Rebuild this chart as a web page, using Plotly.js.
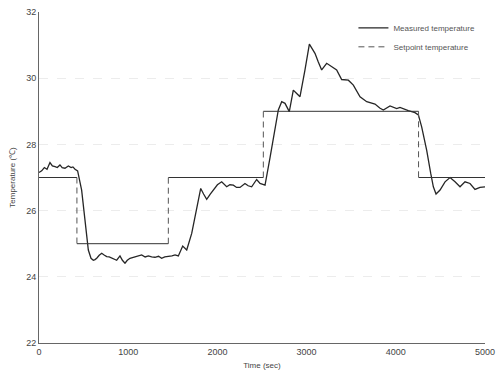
<!DOCTYPE html>
<html>
<head>
<meta charset="utf-8">
<script src="https://cdn.plot.ly/plotly-3.0.1.min.js"></script>
<style>html,body{margin:0;padding:0;background:#fff;}#chart{width:497px;height:381px;}</style>
</head>
<body>
<div id="chart"></div>
<script>
// Measured temperature (time in sec, temperature in °C)
const measTime = [0,30,60,90,123,150,180,205,235,260,291,329,360,380,404,433,
  478,516,553,583,609,628,647,675,703,730,759,787,815,843,871,908,935,964,990,1020,1048,1076,1110,1151,1190,1226,1263,1300,1340,1375,1410,1450,1490,1525,1562,
  1611,1656,1712,1768,1813,1845,1880,1920,1955,2000,2048,2075,2104,2140,2179,2215,2253,2309,2345,2384,2440,2478,2534,
  2590,2646,2683,2721,2758,2806,2851,2889,2926,2982,3031,3060,3094,3130,3169,3225,3281,3337,3393,3468,3524,3560,3599,3674,3767,3820,3860,3935,4010,4047,4100,4140,4215,4253,
  4290,4346,4391,4421,4451,4496,4552,4608,4664,4720,4776,4832,4888,4944,5000];
const measTemp = [27.15,27.2,27.3,27.25,27.45,27.35,27.33,27.3,27.38,27.3,27.28,27.35,27.3,27.32,27.25,27.2,
  26.62,25.62,24.81,24.56,24.5,24.52,24.56,24.65,24.71,24.66,24.61,24.6,24.56,24.52,24.5,24.63,24.5,24.41,24.5,24.56,24.58,24.61,24.64,24.66,24.6,24.63,24.6,24.59,24.62,24.56,24.6,24.61,24.63,24.66,24.63,
  24.93,24.81,25.31,26.12,26.67,26.5,26.34,26.5,26.62,26.78,26.87,26.8,26.72,26.78,26.77,26.7,26.7,26.82,26.75,26.72,26.94,26.82,26.77,
  27.6,28.5,29.04,29.29,29.24,28.99,29.64,29.54,29.44,30.25,31.03,30.9,30.75,30.5,30.25,30.45,30.35,30.25,29.96,29.94,29.79,29.6,29.44,29.29,29.22,29.1,29.04,29.16,29.08,29.12,29.05,29.02,28.96,28.89,
  28.53,27.83,27.13,26.72,26.5,26.62,26.87,27.0,26.87,26.72,26.87,26.82,26.64,26.7,26.72];

// Setpoint temperature: change times and levels
const spTime = [0,425,1450,2515,4255,5000];
const spTemp = [27,25,27,29,27,27];

const xTicks = [0,1000,2000,3000,4000,5000];
const yTicks = [22,24,26,28,30,32];

// build setpoint horizontal (solid) and vertical (dashed) segments
const hx = [], hy = [], vx = [], vy = [];
for (let i = 0; i < spTime.length - 1; i++) {
  hx.push(spTime[i], spTime[i+1], null);
  hy.push(spTemp[i], spTemp[i], null);
  if (spTemp[i+1] !== spTemp[i]) {
    vx.push(spTime[i+1], spTime[i+1], null);
    vy.push(spTemp[i], spTemp[i+1], null);
  }
}

const traces = [
  {x: measTime, y: measTemp, type: 'scatter', mode: 'lines', name: 'Measured temperature',
   line: {color: '#262626', width: 1.3}},
  {x: vx, y: vy, type: 'scatter', mode: 'lines', name: 'Setpoint temperature',
   line: {color: '#555', width: 1, dash: '6px,4px'}, connectgaps: false},
  {x: hx, y: hy, type: 'scatter', mode: 'lines', showlegend: false,
   line: {color: '#333', width: 1}, connectgaps: false}
];

const layout = {
  width: 497, height: 381,
  margin: {l: 39, r: 12, t: 12, b: 38},
  paper_bgcolor: '#fff', plot_bgcolor: '#fff',
  font: {family: 'Liberation Sans, Arial, sans-serif', size: 9, color: '#444'},
  showlegend: true,
  legend: {x: 0.705, y: 0.996, xanchor: 'left', yanchor: 'top', bgcolor: 'rgba(0,0,0,0)',
           font: {size: 8, color: '#555'}, tracegroupgap: 0, itemwidth: 30},
  xaxis: {range: [0, 5000], tickvals: xTicks, ticktext: xTicks.map(String), showgrid: false, zeroline: false,
          showline: true, linecolor: '#666', linewidth: 1, ticks: '', tickfont: {size: 9, color: '#444'},
          title: {text: 'Time (sec)', font: {size: 8, color: '#444'}, standoff: 6}},
  yaxis: {range: [22, 32], tickvals: yTicks, ticktext: yTicks.map(String), zeroline: false,
          showgrid: true, gridcolor: '#ececec', griddash: 'dash', gridwidth: 1,
          showline: true, linecolor: '#666', linewidth: 1, ticks: '', tickfont: {size: 9, color: '#444'},
          title: {text: 'Temperature (℃)', font: {size: 8, color: '#444'}, standoff: 9}}
};

Plotly.newPlot('chart', traces, layout, {displayModeBar: false, staticPlot: true});
</script>
</body>
</html>
